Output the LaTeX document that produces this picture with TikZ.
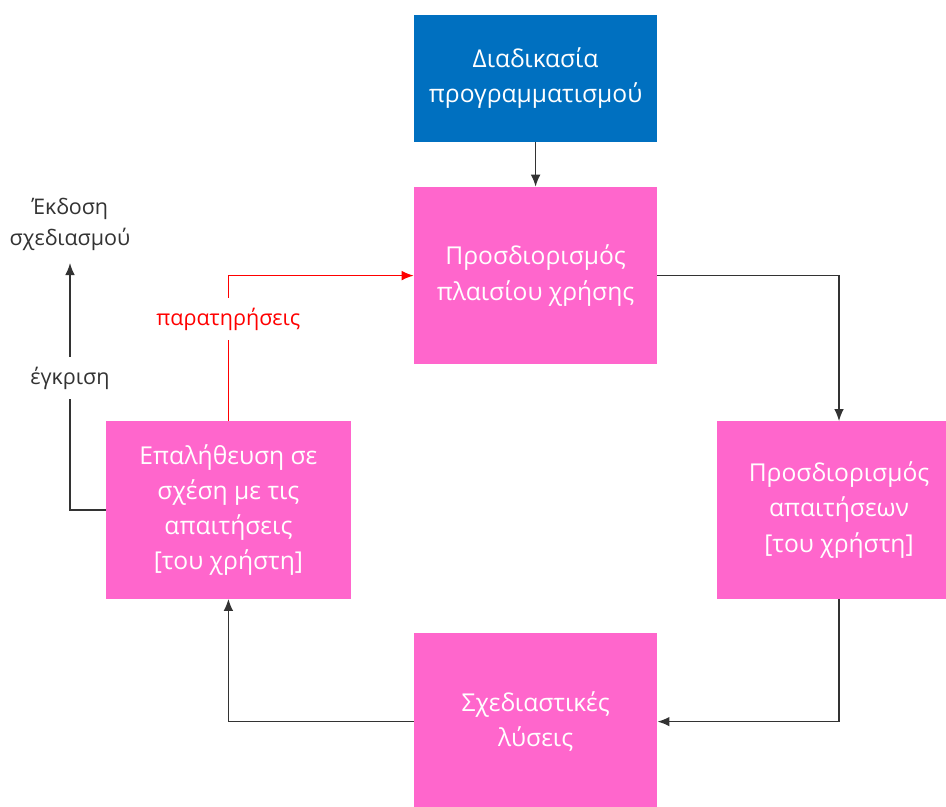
\documentclass[tikz,border=0pt]{standalone}
\usepackage{fontspec}
\setmainfont{Open Sans}
\usetikzlibrary{positioning,arrows.meta}
\definecolor{procblue}{HTML}{0070C0}
\definecolor{stagepink}{HTML}{FF66CC}
\definecolor{flowgray}{HTML}{333333}
\definecolor{notered}{HTML}{FF0000}
\begin{document}
\begin{tikzpicture}[stage/.style={fill=stagepink,text=white,align=center,inner sep=0pt,minimum width=6.08cm,minimum height=4.43cm,font=\fontsize{17.5}{25}\selectfont},origin/.style={stage,fill=procblue,minimum height=3.18cm},flow/.style={flowgray,line width=1pt,-{Latex[length=3mm,width=2.4mm]}},note/.style={notered,line width=1pt,-{Latex[length=3mm,width=2.4mm]}},flowlabel/.style={fill=white,inner xsep=2pt,inner ysep=7pt,font=\fontsize{15.3}{22}\selectfont,align=center}]
\def\picW{23.65}
\def\picH{20.15}
\def\colA{5.71}
\def\colB{13.39}
\def\colC{20.975}
\def\rowA{-1.96}
\def\rowB{-6.89}
\def\rowC{-12.75}
\def\rowD{-18.04}

\clip (0,0) rectangle (\picW,-\picH);

\node[origin] (prog) at (\colB,\rowA) {Διαδικασία\\προγραμματισμού};
\node[stage] (ctx) at (\colB,\rowB) {Προσδιορισμός\\πλαισίου χρήσης};
\node[stage] (req) at (\colC,\rowC) {Προσδιορισμός\\απαιτήσεων\\{[του χρήστη]}};
\node[stage] (sol) at (\colB,\rowD) {Σχεδιαστικές\\λύσεις};
\node[stage,minimum width=6.13cm] (chk) at (\colA,\rowC) {Επαλήθευση σε\\σχέση με τις\\απαιτήσεις\\{[του χρήστη]}};

\node[flowlabel,fill=none,text=flowgray] (release) at (1.75,-5.62) {Έκδοση\\σχεδιασμού};
\coordinate (releaseTip) at (1.75,-6.575);

\draw[flow] (prog) -- (ctx);
\draw[flow] (ctx.east) -| (req.north);
\draw[flow] (req.south) |- (sol.east);
\draw[flow] (sol.west) -| (chk.south);
\draw[note] (chk.north) |- node[flowlabel,text=notered,pos=0.35] (remarks) {παρατηρήσεις} (ctx.west);
\draw[flow] (chk.west) -| node[flowlabel,pos=0.767] (approval) {έγκριση} (releaseTip);
\end{tikzpicture}
\end{document}
